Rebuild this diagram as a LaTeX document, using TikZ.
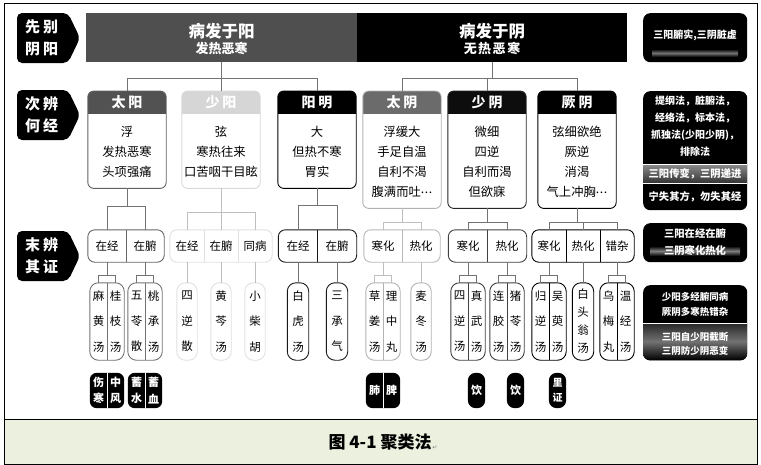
\documentclass[tikz,border=0pt]{standalone}
\usepackage{fontspec}
\setmainfont{Noto Sans CJK SC}
\newfontfamily\djv{DejaVu Sans}
\usetikzlibrary{backgrounds}
\definecolor{capgreen}{HTML}{EBF1DE}
\definecolor{barg}{HTML}{4F4F4F}
\newcommand\fs[2]{\fontsize{#1}{#2}\selectfont}
\tikzset{
  cl/.style={draw=black!55, line width=0.6pt},
  cll/.style={draw=black!25, line width=0.6pt},
  lbltxt/.style={text=white, font=\fs{15}{22}\bfseries, align=left, inner sep=0},
  bar/.style={minimum height=49pt, inner sep=0, anchor=north west},
  jbox/.style={minimum width=78pt, inner sep=0, anchor=north, rounded corners=6pt},
  cell/.style={minimum height=32pt, inner sep=0, font=\fs{11.5}{13}},
  gb/.style={line width=0.9pt, rounded corners=7pt},
  gd/.style={line width=0.9pt},
  pc/.style={minimum width=17pt, minimum height=77pt, inner sep=0, align=center, font=\fs{11.5}{25.5}},
  pcs/.style={pc, minimum width=20pt},
  pb/.style={line width=0.9pt, rounded corners=8.5pt},
  bc/.style={minimum width=17pt, minimum height=35pt, inner sep=0, align=center, text=white, font=\fs{11}{16.5}\bfseries},
  rbox/.style={fill=black, rounded corners=7pt, minimum width=104pt, inner sep=0, anchor=north west},
  rtxt/.style={text=white, font=\fs{10}{17}\bfseries, align=center, inner sep=0},
}
\newcommand\leftlab[4]{%
  \fill[black, rounded corners=5pt] (17,#2) -- (68,#2) -- (80,#2+25) -- (68,#2+50) -- (17,#2+50) -- cycle;
  \node[lbltxt, anchor=west] (#1) at (25,#2+25) {#3\\#4};
}
\newcommand\jingbox[7]{%
  \node[jbox, minimum height=#3pt] (#1) at (#2,91) {};
  \begin{scope}
    \clip[rounded corners=6pt] (#1.north west) rectangle (#1.south east);
    \fill[#4] (#1.north west) rectangle ([yshift=-23pt]#1.north east);
  \end{scope}
  \draw[#5, line width=0.9pt, rounded corners=6pt] (#1.north west) rectangle (#1.south east);
  \node[text=white, font=\fs{14}{14}\bfseries, inner sep=0] (#1h) at ([yshift=-11.5pt]#1.north) {#6};
  \node[align=center, font=\fs{12.3}{20}, inner sep=0, anchor=north] (#1t) at ([yshift=-35pt]#1.north) {#7};
}
\newcommand\mydots{\raisebox{3pt}{.\kern0.6pt.\kern0.6pt.}}
\begin{document}
\begin{tikzpicture}[x=1pt,y=-1pt]
\useasboundingbox (0,0) rectangle (761,464);
% frame and caption
\fill[capgreen] (4,419) rectangle (757,464);
\draw[line width=0.8pt] (4,3) rectangle (757,464);
\draw[line width=0.8pt] (4,419) -- (757,419);
\node[font=\fs{17}{17}\bfseries, inner sep=0] (cap) at (380,442) {图 4-1 聚类法};
\node[anchor=south west, font=\djv\fs{6}{6}, text=black!50, inner sep=0.5pt] (capm) at (cap.south east) {↵};

% left labels
\leftlab{L1}{13}{先\hspace{3pt}别}{阴\hspace{3pt}阳}
\leftlab{L2}{90}{次\hspace{3pt}辨}{何\hspace{3pt}经}
\leftlab{L3}{231}{末\hspace{3pt}辨}{其\hspace{3pt}证}

% top bars
\node[bar, fill=barg, minimum width=271pt] (yang) at (86,13) {};
\node[bar, fill=black, minimum width=270pt] (yin) at (357,13) {};
\node[text=white, font=\fs{16.5}{17}\bfseries, inner sep=0] (yang1) at (221.5,31) {病发于阳};
\node[text=white, font=\fs{13}{13}\bfseries, inner sep=0] (yang2) at (221.5,48) {发热恶寒};
\node[text=white, font=\fs{16.5}{17}\bfseries, inner sep=0] (yin1) at (492,31) {病发于阴};
\node[text=white, font=\fs{13}{13}\bfseries, inner sep=0] (yin2) at (492,48) {无\hspace{1.5pt}热\hspace{1.5pt}恶\hspace{1.5pt}寒};

% second row boxes
\jingbox{ty}{127}{97}{black!68}{black!62}{太\hspace{3pt}阳}{浮\\发热恶寒\\头项强痛}
\jingbox{sy}{221}{97}{black!16}{black!15}{少\hspace{3pt}阳}{弦\\寒热往来\\口苦咽干目眩}
\jingbox{ym}{317}{97}{black}{black}{阳\hspace{3pt}明}{大\\但热不寒\\胃实}
\jingbox{tyin}{402}{117}{black!58}{black!30}{太\hspace{3pt}阴}{浮缓大\\手足自温\\自利不渴\\腹满而吐\mydots}
\jingbox{syin}{487}{117}{black!95}{black!85}{少\hspace{3pt}阴}{微细\\四逆\\自利而渴\\但欲寐}
\jingbox{jy}{577}{117}{black}{black}{厥\hspace{3pt}阴}{弦细欲绝\\厥逆\\消渴\\气上冲胸\mydots}

% row1 -> row2 connectors
\path (yang.south) ++(0,16) coordinate (j1);
\path (yin.south) ++(0,16) coordinate (j2);
\draw[cl] (yang.south) -- (yang.south |- sy.north);
\draw[cl] (ty.north) |- (j1) -| (ym.north);
\draw[cl] (yin.south) -- (j2);
\draw[cl] (tyin.north) |- (j2) -| (jy.north);
\draw[cl] (syin.north) -- (syin.north |- j2);

% third row groups
\node[cell, minimum width=38pt] (tyA) at (107,246) {在经};
\node[cell, minimum width=38pt] (tyB) at (145,246) {在腑};
\draw[gb, draw=black!60] (tyA.north west) rectangle (tyB.south east);
\draw[gd, draw=black!60] (tyA.north east) -- (tyA.south east);

\node[cell, minimum width=34pt] (syA) at (187,246) {在经};
\node[cell, minimum width=34pt] (syB) at (221,246) {在腑};
\node[cell, minimum width=34pt] (syC) at (255,246) {同病};
\draw[gb, draw=black!12] (syA.north west) rectangle (syC.south east);
\draw[gd, draw=black!12] (syA.north east) -- (syA.south east) (syB.north east) -- (syB.south east);

\node[cell, minimum width=39pt] (ymA) at (298,246) {在经};
\node[cell, minimum width=39pt] (ymB) at (337,246) {在腑};
\draw[gb, draw=black!90] (ymA.north west) rectangle (ymB.south east);
\draw[gd, draw=black!90] (ymA.north east) -- (ymA.south east);

\node[cell, minimum width=38pt] (tyinA) at (383,246) {寒化};
\node[cell, minimum width=38pt] (tyinB) at (421,246) {热化};
\draw[gb, draw=black!28] (tyinA.north west) rectangle (tyinB.south east);
\draw[gd, draw=black!28] (tyinA.north east) -- (tyinA.south east);

\node[cell, minimum width=39pt] (syinA) at (468,246) {寒化};
\node[cell, minimum width=39pt] (syinB) at (507,246) {热化};
\draw[gb, draw=black!75] (syinA.north west) rectangle (syinB.south east);
\draw[gd, draw=black!75] (syinA.north east) -- (syinA.south east);

\node[cell, minimum width=34pt] (jyA) at (549,246) {寒化};
\node[cell, minimum width=34pt] (jyB) at (583,246) {热化};
\node[cell, minimum width=34pt] (jyC) at (617,246) {错杂};
\draw[gb, draw=black] (jyA.north west) rectangle (jyC.south east);
\draw[gd, draw=black] (jyA.north east) -- (jyA.south east) (jyB.north east) -- (jyB.south east);

% row2 -> row3 connectors
\path (ty.south) ++(0,18) coordinate (k1);
\draw[cl] (ty.south) -- (k1);
\draw[cl] (tyA.north) |- (k1) -| (tyB.north);
\path (sy.south) ++(0,24) coordinate (k2);
\draw[cll] (sy.south) -- (syB.north);
\draw[cll] (syA.north) |- (k2) -| (syC.north);
\path (ym.south) ++(0,17) coordinate (k3);
\draw[cl] (ym.south) -- (k3);
\draw[cl] (ymA.north) |- (k3) -| (ymB.north);
\path (tyin.south) ++(0,14) coordinate (k4);
\draw[cll] (tyin.south) -- (k4);
\draw[cll] (tyinA.north) |- (k4) -| (tyinB.north);
\path (syin.south) ++(0,14) coordinate (k5);
\draw[cl] (syin.south) -- (k5);
\draw[cl] (syinA.north) |- (k5) -| (syinB.north);
\path (jy.south) ++(0,14) coordinate (k6);
\draw[cl] (jy.south) -- (k6);
\draw[cl] (jyA.north) |- (k6) -| (jyC.north);
\draw[cl] (jyB.north) -- (jyB.north |- k6);

% fourth row: formula pills
\node[pc] (p1a) at (98.5,321.5) {麻\\黄\\汤};
\node[pc] (p1b) at (115.5,321.5) {桂\\枝\\汤};
\draw[pb, draw=black!55] (p1a.north west) rectangle (p1b.south east);
\draw[gd, draw=black!55] (p1a.north east) -- (p1a.south east);
\node[pc] (p2a) at (136.5,321.5) {五\\苓\\散};
\node[pc] (p2b) at (153.5,321.5) {桃\\承\\汤};
\draw[pb, draw=black!55] (p2a.north west) rectangle (p2b.south east);
\draw[gd, draw=black!55] (p2a.north east) -- (p2a.south east);

\node[pcs] (p3) at (187,321.5) {四\\逆\\散};
\node[pcs] (p4) at (221,321.5) {黄\\芩\\汤};
\node[pcs] (p5) at (255,321.5) {小\\柴\\胡};
\foreach \p in {p3,p4,p5} \draw[pb, draw=black!12] (\p.north west) rectangle (\p.south east);

\node[pcs, minimum width=21pt] (p6) at (298,321.5) {白\\虎\\汤};
\node[pcs, minimum width=21pt] (p7) at (337,321.5) {三\\承\\气};
\foreach \p in {p6,p7} \draw[pb, draw=black!90] (\p.north west) rectangle (\p.south east);

\node[pc] (p8a) at (374.5,321.5) {草\\姜\\汤};
\node[pc] (p8b) at (391.5,321.5) {理\\中\\丸};
\draw[pb, draw=black!30] (p8a.north west) rectangle (p8b.south east);
\draw[gd, draw=black!30] (p8a.north east) -- (p8a.south east);
\node[pcs] (p9) at (421,321.5) {麦\\冬\\汤};
\draw[pb, draw=black!30] (p9.north west) rectangle (p9.south east);

\node[pc] (p10a) at (459.5,321.5) {四\\逆\\汤};
\node[pc] (p10b) at (476.5,321.5) {真\\武\\汤};
\draw[pb, draw=black!75] (p10a.north west) rectangle (p10b.south east);
\draw[gd, draw=black!75] (p10a.north east) -- (p10a.south east);
\node[pc] (p11a) at (498.5,321.5) {连\\胶\\汤};
\node[pc] (p11b) at (515.5,321.5) {猪\\苓\\汤};
\draw[pb, draw=black!75] (p11a.north west) rectangle (p11b.south east);
\draw[gd, draw=black!75] (p11a.north east) -- (p11a.south east);

\node[pc] (p12a) at (540.5,321.5) {归\\逆\\汤};
\node[pc] (p12b) at (557.5,321.5) {吴\\萸\\汤};
\draw[pb, draw=black] (p12a.north west) rectangle (p12b.south east);
\draw[gd, draw=black] (p12a.north east) -- (p12a.south east);
\node[pcs, minimum width=21pt, font=\fs{11.5}{18}] (p13) at (583,321.5) {白\\头\\翁\\汤};
\draw[pb, draw=black] (p13.north west) rectangle (p13.south east);
\node[pc] (p14a) at (608.5,321.5) {乌\\梅\\丸};
\node[pc] (p14b) at (625.5,321.5) {温\\经\\汤};
\draw[pb, draw=black] (p14a.north west) rectangle (p14b.south east);
\draw[gd, draw=black] (p14a.north east) -- (p14a.south east);

% row3 -> row4 connectors
\path (tyA.south) ++(0,13) coordinate (m1);
\draw[cl] (tyA.south) -- (m1);
\draw[cl] (p1a.north) |- (m1) -| (p1b.north);
\path (tyB.south) ++(0,13) coordinate (m2);
\draw[cl] (tyB.south) -- (m2);
\draw[cl] (p2a.north) |- (m2) -| (p2b.north);
\draw[cll] (syA.south) -- (p3.north);
\draw[cll] (syB.south) -- (p4.north);
\draw[cll] (syC.south) -- (p5.north);
\draw[cl] (ymA.south) -- (p6.north);
\draw[cl] (ymB.south) -- (p7.north);
\path (tyinA.south) ++(0,13) coordinate (m3);
\draw[cll] (tyinA.south) -- (m3);
\draw[cll] (p8a.north) |- (m3) -| (p8b.north);
\draw[cll] (tyinB.south) -- (p9.north);
\path (syinA.south) ++(0,13) coordinate (m4);
\draw[cl] (syinA.south) -- (m4);
\draw[cl] (p10a.north) |- (m4) -| (p10b.north);
\path (syinB.south) ++(0,13) coordinate (m5);
\draw[cl] (syinB.south) -- (m5);
\draw[cl] (p11a.north) |- (m5) -| (p11b.north);
\path (jyA.south) ++(0,13) coordinate (m6);
\draw[cl] (jyA.south) -- (m6);
\draw[cl] (p12a.north) |- (m6) -| (p12b.north);
\draw[cl] (jyB.south) -- (p13.north);
\path (jyC.south) ++(0,13) coordinate (m7);
\draw[cl] (jyC.south) -- (m7);
\draw[cl] (p14a.north) |- (m7) -| (p14b.north);

% fifth row: black labels
\node[bc] (b1a) at (98.5,390.5) {伤\\寒};
\node[bc] (b1b) at (115.5,390.5) {中\\风};
\node[bc] (b2a) at (136.5,390.5) {蓄\\水};
\node[bc] (b2b) at (153.5,390.5) {蓄\\血};
\node[bc] (b3a) at (374.5,390.5) {肺};
\node[bc] (b3b) at (391.5,390.5) {脾};
\node[bc] (b4) at (476.5,390.5) {饮};
\node[bc] (b5) at (515.5,390.5) {饮};
\node[bc, font=\fs{10}{15}\bfseries] (b6) at (557.5,390.5) {里\\证};
\begin{pgfonlayer}{background}
\fill[black, rounded corners=7pt] (b1a.north west) rectangle (b1b.south east);
\fill[black, rounded corners=7pt] (b2a.north west) rectangle (b2b.south east);
\fill[black, rounded corners=7pt] (b3a.north west) rectangle (b3b.south east);
\foreach \b in {b4,b5,b6} \fill[black, rounded corners=8pt] (\b.north west) rectangle (\b.south east);
\end{pgfonlayer}
\foreach \b in {b1a,b2a,b3a} \draw[white, line width=0.8pt] (\b.north east) -- (\b.south east);

% right column boxes
\node[rbox, minimum height=49pt] (r1) at (643,13) {};
\shade[top color=black, bottom color=black, middle color=black!55] (652,49) rectangle (738,57);
\node[rtxt] (r1t) at (695,35) {三阳腑实,三阴脏虚};

\node[rbox, minimum height=119pt] (r2) at (643,91) {};
\shade[top color=black!45, bottom color=black!80] (643,164) rectangle (747,183);
\draw[white, line width=0.8pt] (643,164) -- (747,164) (643,183) -- (747,183);
\node[rtxt] (r2a) at (695,126) {提纲法，脏腑法，\\经络法，标本法，\\抓独法(少阳少阴)，\\排除法};
\node[rtxt, font=\fs{10.3}{12}\bfseries] (r2b) at (695,173.5) {三阳传变，三阴递进};
\node[rtxt, font=\fs{10.3}{12}\bfseries] (r2c) at (695,197) {宁失其方，勿失其经};

\node[rbox, minimum height=39pt] (r3) at (643,223) {};
\shade[top color=black, bottom color=black, middle color=black!50] (650,246) rectangle (740,256);
\node[rtxt, font=\fs{10.3}{17}\bfseries] (r3t) at (695,242.5) {三阳在经在腑\\三阴寒化热化};

\node[rbox, minimum height=75pt] (r4) at (643,285) {};
\begin{scope}
  \clip[rounded corners=7pt] (r4.north west) rectangle (r4.south east);
  \shade[top color=black!85, bottom color=black, middle color=black!55] (643,323) rectangle (747,360);
\end{scope}
\draw[white, line width=0.8pt] (643,323) -- (747,323);
\node[rtxt, font=\fs{9.5}{15}\bfseries] (r4a) at (695,304.5) {少阳多经腑同病\\厥阴多寒热错杂};
\node[rtxt, font=\fs{9.5}{14.5}\bfseries] (r4b) at (695,344) {三阳自少阳截断\\三阴防少阴恶变};
\end{tikzpicture}
\end{document}
